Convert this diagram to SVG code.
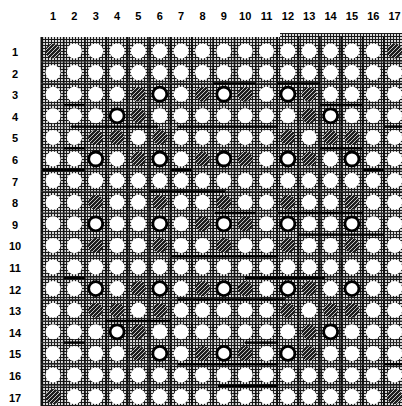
<svg xmlns="http://www.w3.org/2000/svg" width="402" height="406" viewBox="0 0 402 406">
<defs>
<pattern id="stip" width="3" height="3" patternUnits="userSpaceOnUse"><rect width="3" height="3" fill="#d8d8d8"/><rect width="1" height="3" fill="#1a1a1a"/><rect width="3" height="1" fill="#1a1a1a"/></pattern>
<pattern id="hatch" width="4" height="4" patternUnits="userSpaceOnUse"><rect width="4" height="4" fill="#1e1e1e"/><path d="M0,4 L4,0 M-1,1 L1,-1 M3,5 L5,3" stroke="#d8d8d8" stroke-width="0.9"/></pattern>
</defs>
<style>
.lbl{font-family:"Liberation Sans",Arial,sans-serif;font-weight:bold;font-size:11px;fill:#000;text-anchor:middle}
.w{fill:#fff}
.o{fill:#fff;stroke:#000;stroke-width:2.8}
.h{fill:url(#hatch)}
.vs{stroke:#111;stroke-width:1.6}
.hs{stroke:#333;stroke-width:1}
.tk{stroke:#000;stroke-width:2.4}
</style>
<rect width="402" height="406" fill="#fff"/>
<g id="col-labels">
<text class="lbl" x="53" y="20">1</text><text class="lbl" x="74.4" y="20">2</text><text class="lbl" x="95.7" y="20">3</text><text class="lbl" x="117.1" y="20">4</text><text class="lbl" x="138.4" y="20">5</text><text class="lbl" x="159.8" y="20">6</text><text class="lbl" x="181.1" y="20">7</text><text class="lbl" x="202.5" y="20">8</text><text class="lbl" x="223.8" y="20">9</text><text class="lbl" x="245.2" y="20">10</text><text class="lbl" x="266.5" y="20">11</text><text class="lbl" x="287.9" y="20">12</text><text class="lbl" x="309.2" y="20">13</text><text class="lbl" x="330.6" y="20">14</text><text class="lbl" x="351.9" y="20">15</text><text class="lbl" x="373.3" y="20">16</text><text class="lbl" x="394.6" y="20">17</text>
</g>
<g id="row-labels">
<text class="lbl" x="15" y="56">1</text><text class="lbl" x="15" y="77.6">2</text><text class="lbl" x="15" y="99.2">3</text><text class="lbl" x="15" y="120.8">4</text><text class="lbl" x="15" y="142.4">5</text><text class="lbl" x="15" y="164">6</text><text class="lbl" x="15" y="185.6">7</text><text class="lbl" x="15" y="207.2">8</text><text class="lbl" x="15" y="228.8">9</text><text class="lbl" x="15" y="250.4">10</text><text class="lbl" x="15" y="272">11</text><text class="lbl" x="15" y="293.6">12</text><text class="lbl" x="15" y="315.2">13</text><text class="lbl" x="15" y="336.8">14</text><text class="lbl" x="15" y="358.4">15</text><text class="lbl" x="15" y="380">16</text><text class="lbl" x="15" y="401.6">17</text>
</g>
<g id="board">
<rect x="41" y="37" width="361" height="369" fill="url(#stip)"/>
<rect x="280" y="33" width="122" height="4" fill="url(#stip)"/>
</g>
<g id="connectors">
<line class="vs" x1="41.8" y1="37" x2="41.8" y2="406" style="stroke-width:2.6"/>
<line class="vs" x1="63.7" y1="37" x2="63.7" y2="406"/><line class="vs" x1="85" y1="37" x2="85" y2="406"/><line class="vs" x1="106.4" y1="37" x2="106.4" y2="406"/><line class="vs" x1="127.7" y1="37" x2="127.7" y2="406"/><line class="vs" x1="149.1" y1="37" x2="149.1" y2="406"/><line class="vs" x1="170.4" y1="37" x2="170.4" y2="406"/><line class="vs" x1="191.8" y1="37" x2="191.8" y2="406"/><line class="vs" x1="213.1" y1="37" x2="213.1" y2="406"/><line class="vs" x1="234.5" y1="37" x2="234.5" y2="406"/><line class="vs" x1="255.8" y1="37" x2="255.8" y2="406"/><line class="vs" x1="277.2" y1="37" x2="277.2" y2="406"/><line class="vs" x1="298.5" y1="37" x2="298.5" y2="406"/><line class="vs" x1="319.9" y1="37" x2="319.9" y2="406"/><line class="vs" x1="341.2" y1="37" x2="341.2" y2="406"/><line class="vs" x1="362.6" y1="37" x2="362.6" y2="406"/><line class="vs" x1="384" y1="37" x2="384" y2="406" style="stroke-width:2"/>
<line class="hs" x1="41" y1="61.8" x2="402" y2="61.8"/><line class="hs" x1="41" y1="83.4" x2="402" y2="83.4"/><line class="hs" x1="41" y1="105" x2="402" y2="105"/><line class="hs" x1="41" y1="126.6" x2="402" y2="126.6"/><line class="hs" x1="41" y1="148.2" x2="402" y2="148.2"/><line class="hs" x1="41" y1="169.8" x2="402" y2="169.8"/><line class="hs" x1="41" y1="191.4" x2="402" y2="191.4"/><line class="hs" x1="41" y1="213" x2="402" y2="213"/><line class="hs" x1="41" y1="234.6" x2="402" y2="234.6"/><line class="hs" x1="41" y1="256.2" x2="402" y2="256.2"/><line class="hs" x1="41" y1="277.8" x2="402" y2="277.8"/><line class="hs" x1="41" y1="299.4" x2="402" y2="299.4"/><line class="hs" x1="41" y1="321" x2="402" y2="321"/><line class="hs" x1="41" y1="342.6" x2="402" y2="342.6"/><line class="hs" x1="41" y1="364.2" x2="402" y2="364.2"/><line class="hs" x1="41" y1="385.8" x2="402" y2="385.8"/>
<line class="tk" x1="213" y1="83.4" x2="256" y2="83.4"/><line class="tk" x1="277" y1="83.4" x2="320" y2="83.4"/>
<line class="tk" x1="63.7" y1="105" x2="85" y2="105"/><line class="tk" x1="320" y1="105" x2="362.6" y2="105"/>
<line class="tk" x1="71" y1="126.6" x2="158" y2="126.6"/><line class="tk" x1="178" y1="126.6" x2="278" y2="126.6"/><line class="tk" x1="384" y1="126.6" x2="402" y2="126.6"/>
<line class="tk" x1="63.7" y1="148.2" x2="85" y2="148.2"/><line class="tk" x1="320" y1="148.2" x2="362.6" y2="148.2"/>
<line class="tk" x1="42" y1="169.8" x2="85" y2="169.8"/><line class="tk" x1="170.4" y1="169.8" x2="191.8" y2="169.8"/><line class="tk" x1="362.6" y1="169.8" x2="384" y2="169.8"/>
<line class="tk" x1="149" y1="191.4" x2="225" y2="191.4"/>
<line class="tk" x1="215" y1="213" x2="256" y2="213"/><line class="tk" x1="278" y1="213" x2="363" y2="213"/>
<line class="tk" x1="298" y1="234.6" x2="384" y2="234.6"/>
<line class="tk" x1="171" y1="256.2" x2="278" y2="256.2"/>
<line class="tk" x1="63.7" y1="277.8" x2="85" y2="277.8"/><line class="tk" x1="245" y1="277.8" x2="325" y2="277.8"/>
<line class="tk" x1="178" y1="299.4" x2="285" y2="299.4"/>
<line class="tk" x1="105" y1="321" x2="171" y2="321"/>
<line class="tk" x1="63.7" y1="342.6" x2="85" y2="342.6"/><line class="tk" x1="245" y1="342.6" x2="278" y2="342.6"/>
<line class="tk" x1="178" y1="364.2" x2="278" y2="364.2"/><line class="tk" x1="384" y1="364.2" x2="402" y2="364.2"/>
<line class="tk" x1="218" y1="385.8" x2="278" y2="385.8"/>
</g>
<g id="row1">
<circle class="h" cx="53" cy="51" r="7.5"/><circle class="w" cx="74.4" cy="51" r="7.5"/><circle class="w" cx="95.7" cy="51" r="7.5"/><circle class="w" cx="117.1" cy="51" r="7.5"/><circle class="w" cx="138.4" cy="51" r="7.5"/><circle class="w" cx="159.8" cy="51" r="7.5"/><circle class="w" cx="181.1" cy="51" r="7.5"/><circle class="w" cx="202.5" cy="51" r="7.5"/><circle class="w" cx="223.8" cy="51" r="7.5"/><circle class="w" cx="245.2" cy="51" r="7.5"/><circle class="w" cx="266.5" cy="51" r="7.5"/><circle class="w" cx="287.9" cy="51" r="7.5"/><circle class="w" cx="309.2" cy="51" r="7.5"/><circle class="w" cx="330.6" cy="51" r="7.5"/><circle class="w" cx="351.9" cy="51" r="7.5"/><circle class="w" cx="373.3" cy="51" r="7.5"/><circle class="h" cx="394.6" cy="51" r="7.5"/>
</g>
<g id="row2">
<circle class="w" cx="53" cy="72.6" r="7.5"/><circle class="w" cx="74.4" cy="72.6" r="7.5"/><circle class="w" cx="95.7" cy="72.6" r="7.5"/><circle class="w" cx="117.1" cy="72.6" r="7.5"/><circle class="w" cx="138.4" cy="72.6" r="7.5"/><circle class="w" cx="159.8" cy="72.6" r="7.5"/><circle class="w" cx="181.1" cy="72.6" r="7.5"/><circle class="w" cx="202.5" cy="72.6" r="7.5"/><circle class="w" cx="223.8" cy="72.6" r="7.5"/><circle class="w" cx="245.2" cy="72.6" r="7.5"/><circle class="w" cx="266.5" cy="72.6" r="7.5"/><circle class="w" cx="287.9" cy="72.6" r="7.5"/><circle class="w" cx="309.2" cy="72.6" r="7.5"/><circle class="w" cx="330.6" cy="72.6" r="7.5"/><circle class="w" cx="351.9" cy="72.6" r="7.5"/><circle class="w" cx="373.3" cy="72.6" r="7.5"/><circle class="w" cx="394.6" cy="72.6" r="7.5"/>
</g>
<g id="row3">
<circle class="w" cx="53" cy="94.2" r="7.5"/><circle class="w" cx="74.4" cy="94.2" r="7.5"/><circle class="w" cx="95.7" cy="94.2" r="7.5"/><circle class="w" cx="117.1" cy="94.2" r="7.5"/><circle class="h" cx="138.4" cy="94.2" r="7.5"/><circle class="o" cx="159.8" cy="94.2" r="7"/><circle class="w" cx="181.1" cy="94.2" r="7.5"/><circle class="h" cx="202.5" cy="94.2" r="7.5"/><circle class="o" cx="223.8" cy="94.2" r="7"/><circle class="h" cx="245.2" cy="94.2" r="7.5"/><circle class="w" cx="266.5" cy="94.2" r="7.5"/><circle class="o" cx="287.9" cy="94.2" r="7"/><circle class="h" cx="309.2" cy="94.2" r="7.5"/><circle class="w" cx="330.6" cy="94.2" r="7.5"/><circle class="w" cx="351.9" cy="94.2" r="7.5"/><circle class="w" cx="373.3" cy="94.2" r="7.5"/><circle class="w" cx="394.6" cy="94.2" r="7.5"/>
</g>
<g id="row4">
<circle class="w" cx="53" cy="115.8" r="7.5"/><circle class="w" cx="74.4" cy="115.8" r="7.5"/><circle class="w" cx="95.7" cy="115.8" r="7.5"/><circle class="o" cx="117.1" cy="115.8" r="7"/><circle class="h" cx="138.4" cy="115.8" r="7.5"/><circle class="w" cx="159.8" cy="115.8" r="7.5"/><circle class="w" cx="181.1" cy="115.8" r="7.5"/><circle class="w" cx="202.5" cy="115.8" r="7.5"/><circle class="w" cx="223.8" cy="115.8" r="7.5"/><circle class="w" cx="245.2" cy="115.8" r="7.5"/><circle class="w" cx="266.5" cy="115.8" r="7.5"/><circle class="w" cx="287.9" cy="115.8" r="7.5"/><circle class="h" cx="309.2" cy="115.8" r="7.5"/><circle class="o" cx="330.6" cy="115.8" r="7"/><circle class="w" cx="351.9" cy="115.8" r="7.5"/><circle class="w" cx="373.3" cy="115.8" r="7.5"/><circle class="w" cx="394.6" cy="115.8" r="7.5"/>
</g>
<g id="row5">
<circle class="w" cx="53" cy="137.4" r="7.5"/><circle class="w" cx="74.4" cy="137.4" r="7.5"/><circle class="h" cx="95.7" cy="137.4" r="7.5"/><circle class="h" cx="117.1" cy="137.4" r="7.5"/><circle class="w" cx="138.4" cy="137.4" r="7.5"/><circle class="h" cx="159.8" cy="137.4" r="7.5"/><circle class="w" cx="181.1" cy="137.4" r="7.5"/><circle class="w" cx="202.5" cy="137.4" r="7.5"/><circle class="w" cx="223.8" cy="137.4" r="7.5"/><circle class="w" cx="245.2" cy="137.4" r="7.5"/><circle class="w" cx="266.5" cy="137.4" r="7.5"/><circle class="h" cx="287.9" cy="137.4" r="7.5"/><circle class="w" cx="309.2" cy="137.4" r="7.5"/><circle class="h" cx="330.6" cy="137.4" r="7.5"/><circle class="h" cx="351.9" cy="137.4" r="7.5"/><circle class="w" cx="373.3" cy="137.4" r="7.5"/><circle class="w" cx="394.6" cy="137.4" r="7.5"/>
</g>
<g id="row6">
<circle class="w" cx="53" cy="159" r="7.5"/><circle class="w" cx="74.4" cy="159" r="7.5"/><circle class="o" cx="95.7" cy="159" r="7"/><circle class="w" cx="117.1" cy="159" r="7.5"/><circle class="h" cx="138.4" cy="159" r="7.5"/><circle class="o" cx="159.8" cy="159" r="7"/><circle class="w" cx="181.1" cy="159" r="7.5"/><circle class="h" cx="202.5" cy="159" r="7.5"/><circle class="o" cx="223.8" cy="159" r="7"/><circle class="h" cx="245.2" cy="159" r="7.5"/><circle class="w" cx="266.5" cy="159" r="7.5"/><circle class="o" cx="287.9" cy="159" r="7"/><circle class="h" cx="309.2" cy="159" r="7.5"/><circle class="w" cx="330.6" cy="159" r="7.5"/><circle class="o" cx="351.9" cy="159" r="7"/><circle class="w" cx="373.3" cy="159" r="7.5"/><circle class="w" cx="394.6" cy="159" r="7.5"/>
</g>
<g id="row7">
<circle class="w" cx="53" cy="180.6" r="7.5"/><circle class="w" cx="74.4" cy="180.6" r="7.5"/><circle class="w" cx="95.7" cy="180.6" r="7.5"/><circle class="w" cx="117.1" cy="180.6" r="7.5"/><circle class="w" cx="138.4" cy="180.6" r="7.5"/><circle class="w" cx="159.8" cy="180.6" r="7.5"/><circle class="w" cx="181.1" cy="180.6" r="7.5"/><circle class="w" cx="202.5" cy="180.6" r="7.5"/><circle class="w" cx="223.8" cy="180.6" r="7.5"/><circle class="w" cx="245.2" cy="180.6" r="7.5"/><circle class="w" cx="266.5" cy="180.6" r="7.5"/><circle class="w" cx="287.9" cy="180.6" r="7.5"/><circle class="w" cx="309.2" cy="180.6" r="7.5"/><circle class="w" cx="330.6" cy="180.6" r="7.5"/><circle class="w" cx="351.9" cy="180.6" r="7.5"/><circle class="w" cx="373.3" cy="180.6" r="7.5"/><circle class="w" cx="394.6" cy="180.6" r="7.5"/>
</g>
<g id="row8">
<circle class="w" cx="53" cy="202.2" r="7.5"/><circle class="w" cx="74.4" cy="202.2" r="7.5"/><circle class="h" cx="95.7" cy="202.2" r="7.5"/><circle class="w" cx="117.1" cy="202.2" r="7.5"/><circle class="w" cx="138.4" cy="202.2" r="7.5"/><circle class="h" cx="159.8" cy="202.2" r="7.5"/><circle class="w" cx="181.1" cy="202.2" r="7.5"/><circle class="w" cx="202.5" cy="202.2" r="7.5"/><circle class="h" cx="223.8" cy="202.2" r="7.5"/><circle class="w" cx="245.2" cy="202.2" r="7.5"/><circle class="w" cx="266.5" cy="202.2" r="7.5"/><circle class="h" cx="287.9" cy="202.2" r="7.5"/><circle class="w" cx="309.2" cy="202.2" r="7.5"/><circle class="w" cx="330.6" cy="202.2" r="7.5"/><circle class="h" cx="351.9" cy="202.2" r="7.5"/><circle class="w" cx="373.3" cy="202.2" r="7.5"/><circle class="w" cx="394.6" cy="202.2" r="7.5"/>
</g>
<g id="row9">
<circle class="w" cx="53" cy="223.8" r="7.5"/><circle class="w" cx="74.4" cy="223.8" r="7.5"/><circle class="o" cx="95.7" cy="223.8" r="7"/><circle class="w" cx="117.1" cy="223.8" r="7.5"/><circle class="w" cx="138.4" cy="223.8" r="7.5"/><circle class="o" cx="159.8" cy="223.8" r="7"/><circle class="w" cx="181.1" cy="223.8" r="7.5"/><circle class="h" cx="202.5" cy="223.8" r="7.5"/><circle class="o" cx="223.8" cy="223.8" r="7"/><circle class="h" cx="245.2" cy="223.8" r="7.5"/><circle class="w" cx="266.5" cy="223.8" r="7.5"/><circle class="o" cx="287.9" cy="223.8" r="7"/><circle class="w" cx="309.2" cy="223.8" r="7.5"/><circle class="w" cx="330.6" cy="223.8" r="7.5"/><circle class="o" cx="351.9" cy="223.8" r="7"/><circle class="w" cx="373.3" cy="223.8" r="7.5"/><circle class="w" cx="394.6" cy="223.8" r="7.5"/>
</g>
<g id="row10">
<circle class="w" cx="53" cy="245.4" r="7.5"/><circle class="w" cx="74.4" cy="245.4" r="7.5"/><circle class="h" cx="95.7" cy="245.4" r="7.5"/><circle class="w" cx="117.1" cy="245.4" r="7.5"/><circle class="w" cx="138.4" cy="245.4" r="7.5"/><circle class="h" cx="159.8" cy="245.4" r="7.5"/><circle class="w" cx="181.1" cy="245.4" r="7.5"/><circle class="w" cx="202.5" cy="245.4" r="7.5"/><circle class="h" cx="223.8" cy="245.4" r="7.5"/><circle class="w" cx="245.2" cy="245.4" r="7.5"/><circle class="w" cx="266.5" cy="245.4" r="7.5"/><circle class="h" cx="287.9" cy="245.4" r="7.5"/><circle class="w" cx="309.2" cy="245.4" r="7.5"/><circle class="w" cx="330.6" cy="245.4" r="7.5"/><circle class="h" cx="351.9" cy="245.4" r="7.5"/><circle class="w" cx="373.3" cy="245.4" r="7.5"/><circle class="w" cx="394.6" cy="245.4" r="7.5"/>
</g>
<g id="row11">
<circle class="w" cx="53" cy="267" r="7.5"/><circle class="w" cx="74.4" cy="267" r="7.5"/><circle class="w" cx="95.7" cy="267" r="7.5"/><circle class="w" cx="117.1" cy="267" r="7.5"/><circle class="w" cx="138.4" cy="267" r="7.5"/><circle class="w" cx="159.8" cy="267" r="7.5"/><circle class="w" cx="181.1" cy="267" r="7.5"/><circle class="w" cx="202.5" cy="267" r="7.5"/><circle class="w" cx="223.8" cy="267" r="7.5"/><circle class="w" cx="245.2" cy="267" r="7.5"/><circle class="w" cx="266.5" cy="267" r="7.5"/><circle class="w" cx="287.9" cy="267" r="7.5"/><circle class="w" cx="309.2" cy="267" r="7.5"/><circle class="w" cx="330.6" cy="267" r="7.5"/><circle class="w" cx="351.9" cy="267" r="7.5"/><circle class="w" cx="373.3" cy="267" r="7.5"/><circle class="w" cx="394.6" cy="267" r="7.5"/>
</g>
<g id="row12">
<circle class="w" cx="53" cy="288.6" r="7.5"/><circle class="w" cx="74.4" cy="288.6" r="7.5"/><circle class="o" cx="95.7" cy="288.6" r="7"/><circle class="w" cx="117.1" cy="288.6" r="7.5"/><circle class="h" cx="138.4" cy="288.6" r="7.5"/><circle class="o" cx="159.8" cy="288.6" r="7"/><circle class="w" cx="181.1" cy="288.6" r="7.5"/><circle class="h" cx="202.5" cy="288.6" r="7.5"/><circle class="o" cx="223.8" cy="288.6" r="7"/><circle class="h" cx="245.2" cy="288.6" r="7.5"/><circle class="w" cx="266.5" cy="288.6" r="7.5"/><circle class="o" cx="287.9" cy="288.6" r="7"/><circle class="h" cx="309.2" cy="288.6" r="7.5"/><circle class="w" cx="330.6" cy="288.6" r="7.5"/><circle class="o" cx="351.9" cy="288.6" r="7"/><circle class="w" cx="373.3" cy="288.6" r="7.5"/><circle class="w" cx="394.6" cy="288.6" r="7.5"/>
</g>
<g id="row13">
<circle class="w" cx="53" cy="310.2" r="7.5"/><circle class="w" cx="74.4" cy="310.2" r="7.5"/><circle class="h" cx="95.7" cy="310.2" r="7.5"/><circle class="h" cx="117.1" cy="310.2" r="7.5"/><circle class="w" cx="138.4" cy="310.2" r="7.5"/><circle class="h" cx="159.8" cy="310.2" r="7.5"/><circle class="w" cx="181.1" cy="310.2" r="7.5"/><circle class="w" cx="202.5" cy="310.2" r="7.5"/><circle class="w" cx="223.8" cy="310.2" r="7.5"/><circle class="w" cx="245.2" cy="310.2" r="7.5"/><circle class="w" cx="266.5" cy="310.2" r="7.5"/><circle class="h" cx="287.9" cy="310.2" r="7.5"/><circle class="w" cx="309.2" cy="310.2" r="7.5"/><circle class="h" cx="330.6" cy="310.2" r="7.5"/><circle class="h" cx="351.9" cy="310.2" r="7.5"/><circle class="w" cx="373.3" cy="310.2" r="7.5"/><circle class="w" cx="394.6" cy="310.2" r="7.5"/>
</g>
<g id="row14">
<circle class="w" cx="53" cy="331.8" r="7.5"/><circle class="w" cx="74.4" cy="331.8" r="7.5"/><circle class="w" cx="95.7" cy="331.8" r="7.5"/><circle class="o" cx="117.1" cy="331.8" r="7"/><circle class="h" cx="138.4" cy="331.8" r="7.5"/><circle class="w" cx="159.8" cy="331.8" r="7.5"/><circle class="w" cx="181.1" cy="331.8" r="7.5"/><circle class="w" cx="202.5" cy="331.8" r="7.5"/><circle class="w" cx="223.8" cy="331.8" r="7.5"/><circle class="w" cx="245.2" cy="331.8" r="7.5"/><circle class="w" cx="266.5" cy="331.8" r="7.5"/><circle class="w" cx="287.9" cy="331.8" r="7.5"/><circle class="h" cx="309.2" cy="331.8" r="7.5"/><circle class="o" cx="330.6" cy="331.8" r="7"/><circle class="w" cx="351.9" cy="331.8" r="7.5"/><circle class="w" cx="373.3" cy="331.8" r="7.5"/><circle class="w" cx="394.6" cy="331.8" r="7.5"/>
</g>
<g id="row15">
<circle class="w" cx="53" cy="353.4" r="7.5"/><circle class="w" cx="74.4" cy="353.4" r="7.5"/><circle class="w" cx="95.7" cy="353.4" r="7.5"/><circle class="w" cx="117.1" cy="353.4" r="7.5"/><circle class="h" cx="138.4" cy="353.4" r="7.5"/><circle class="o" cx="159.8" cy="353.4" r="7"/><circle class="w" cx="181.1" cy="353.4" r="7.5"/><circle class="h" cx="202.5" cy="353.4" r="7.5"/><circle class="o" cx="223.8" cy="353.4" r="7"/><circle class="h" cx="245.2" cy="353.4" r="7.5"/><circle class="w" cx="266.5" cy="353.4" r="7.5"/><circle class="o" cx="287.9" cy="353.4" r="7"/><circle class="h" cx="309.2" cy="353.4" r="7.5"/><circle class="w" cx="330.6" cy="353.4" r="7.5"/><circle class="w" cx="351.9" cy="353.4" r="7.5"/><circle class="w" cx="373.3" cy="353.4" r="7.5"/><circle class="w" cx="394.6" cy="353.4" r="7.5"/>
</g>
<g id="row16">
<circle class="w" cx="53" cy="375" r="7.5"/><circle class="w" cx="74.4" cy="375" r="7.5"/><circle class="w" cx="95.7" cy="375" r="7.5"/><circle class="w" cx="117.1" cy="375" r="7.5"/><circle class="w" cx="138.4" cy="375" r="7.5"/><circle class="w" cx="159.8" cy="375" r="7.5"/><circle class="w" cx="181.1" cy="375" r="7.5"/><circle class="w" cx="202.5" cy="375" r="7.5"/><circle class="w" cx="223.8" cy="375" r="7.5"/><circle class="w" cx="245.2" cy="375" r="7.5"/><circle class="w" cx="266.5" cy="375" r="7.5"/><circle class="w" cx="287.9" cy="375" r="7.5"/><circle class="w" cx="309.2" cy="375" r="7.5"/><circle class="w" cx="330.6" cy="375" r="7.5"/><circle class="w" cx="351.9" cy="375" r="7.5"/><circle class="w" cx="373.3" cy="375" r="7.5"/><circle class="w" cx="394.6" cy="375" r="7.5"/>
</g>
<g id="row17">
<circle class="h" cx="53" cy="396.6" r="7.5"/><circle class="w" cx="74.4" cy="396.6" r="7.5"/><circle class="w" cx="95.7" cy="396.6" r="7.5"/><circle class="w" cx="117.1" cy="396.6" r="7.5"/><circle class="w" cx="138.4" cy="396.6" r="7.5"/><circle class="w" cx="159.8" cy="396.6" r="7.5"/><circle class="w" cx="181.1" cy="396.6" r="7.5"/><circle class="w" cx="202.5" cy="396.6" r="7.5"/><circle class="w" cx="223.8" cy="396.6" r="7.5"/><circle class="w" cx="245.2" cy="396.6" r="7.5"/><circle class="w" cx="266.5" cy="396.6" r="7.5"/><circle class="w" cx="287.9" cy="396.6" r="7.5"/><circle class="w" cx="309.2" cy="396.6" r="7.5"/><circle class="w" cx="330.6" cy="396.6" r="7.5"/><circle class="w" cx="351.9" cy="396.6" r="7.5"/><circle class="w" cx="373.3" cy="396.6" r="7.5"/><circle class="h" cx="394.6" cy="396.6" r="7.5"/>
</g>
</svg>
